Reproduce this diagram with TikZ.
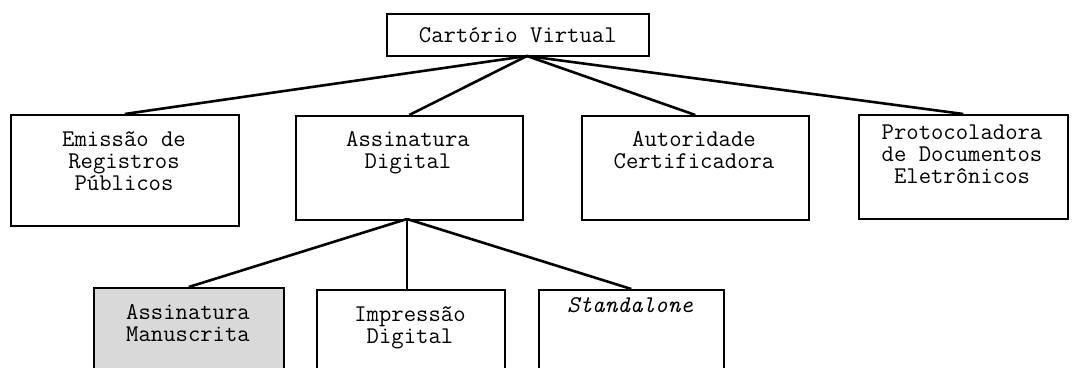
\documentclass[tikz,border=0pt]{standalone}
\usepackage{fontspec}
\begin{document}
\begin{tikzpicture}[x=0.5pt,y=-0.5pt,
  box/.style={draw=black, line width=0.8pt, inner sep=0pt, anchor=north west},
  lbl/.style={font=\ttfamily\fontsize{12}{11.2}\selectfont, align=center, anchor=north, inner sep=0pt},
  link/.style={draw=black, line width=1.3pt}]
\useasboundingbox (0,0) rectangle (1076,368);
\clip (0,0) rectangle (1076,368);
\fill[white] (0,0) rectangle (1076,368);
% top
\node[box, minimum width=131pt, minimum height=21pt] (top) at (386,13) {};
\node[lbl, anchor=center] (toptext) at (top.center) {Cartório Virtual};
% level 2
\node[box, minimum width=114pt, minimum height=55.5pt] (b1) at (10,114) {};
\node[lbl] (t1) at (124,131) {Emissão de\\Registros\\Públicos};
\node[box, minimum width=113.5pt, minimum height=52pt] (b2) at (295,115) {};
\node[lbl] (t2) at (408,131) {Assinatura\\Digital};
\node[box, minimum width=113.5pt, minimum height=52pt] (b3) at (581,115) {};
\node[lbl] (t3) at (694,131) {Autoridade\\Certificadora};
\node[box, minimum width=104.5pt, minimum height=52pt] (b4) at (858,114) {};
\node[lbl] (t4) at (962,124) {Protocoladora\\de Documentos\\Eletrônicos};
% level 3
\node[box, fill=gray!30, minimum width=95pt, minimum height=60pt] (b5) at (93,287) {};
\node[lbl] (t5) at (188,304) {Assinatura\\Manuscrita};
\node[box, minimum width=94pt, minimum height=60pt] (b6) at (316,289) {};
\node[lbl] (t6) at (410,306) {Impressão\\Digital};
\node[box, minimum width=92.5pt, minimum height=60pt] (b7) at (538,289) {};
\node[lbl] (t7) at (630,297) {\itshape Standalone};
% connectors
\coordinate (apex) at (527,56);
\draw[link] (apex) -- (b1.north);
\draw[link] (apex) -- (b2.north);
\draw[link] (apex) -- (b3.north);
\draw[link] (apex) -- (b4.north);
\coordinate (mid) at (407,219);
\draw[link] (mid) -- (b5.north);
\draw[link, line width=1pt] (mid) -- (b6.north -| mid);
\draw[link] (mid) -- (b7.north);
\end{tikzpicture}
\end{document}
